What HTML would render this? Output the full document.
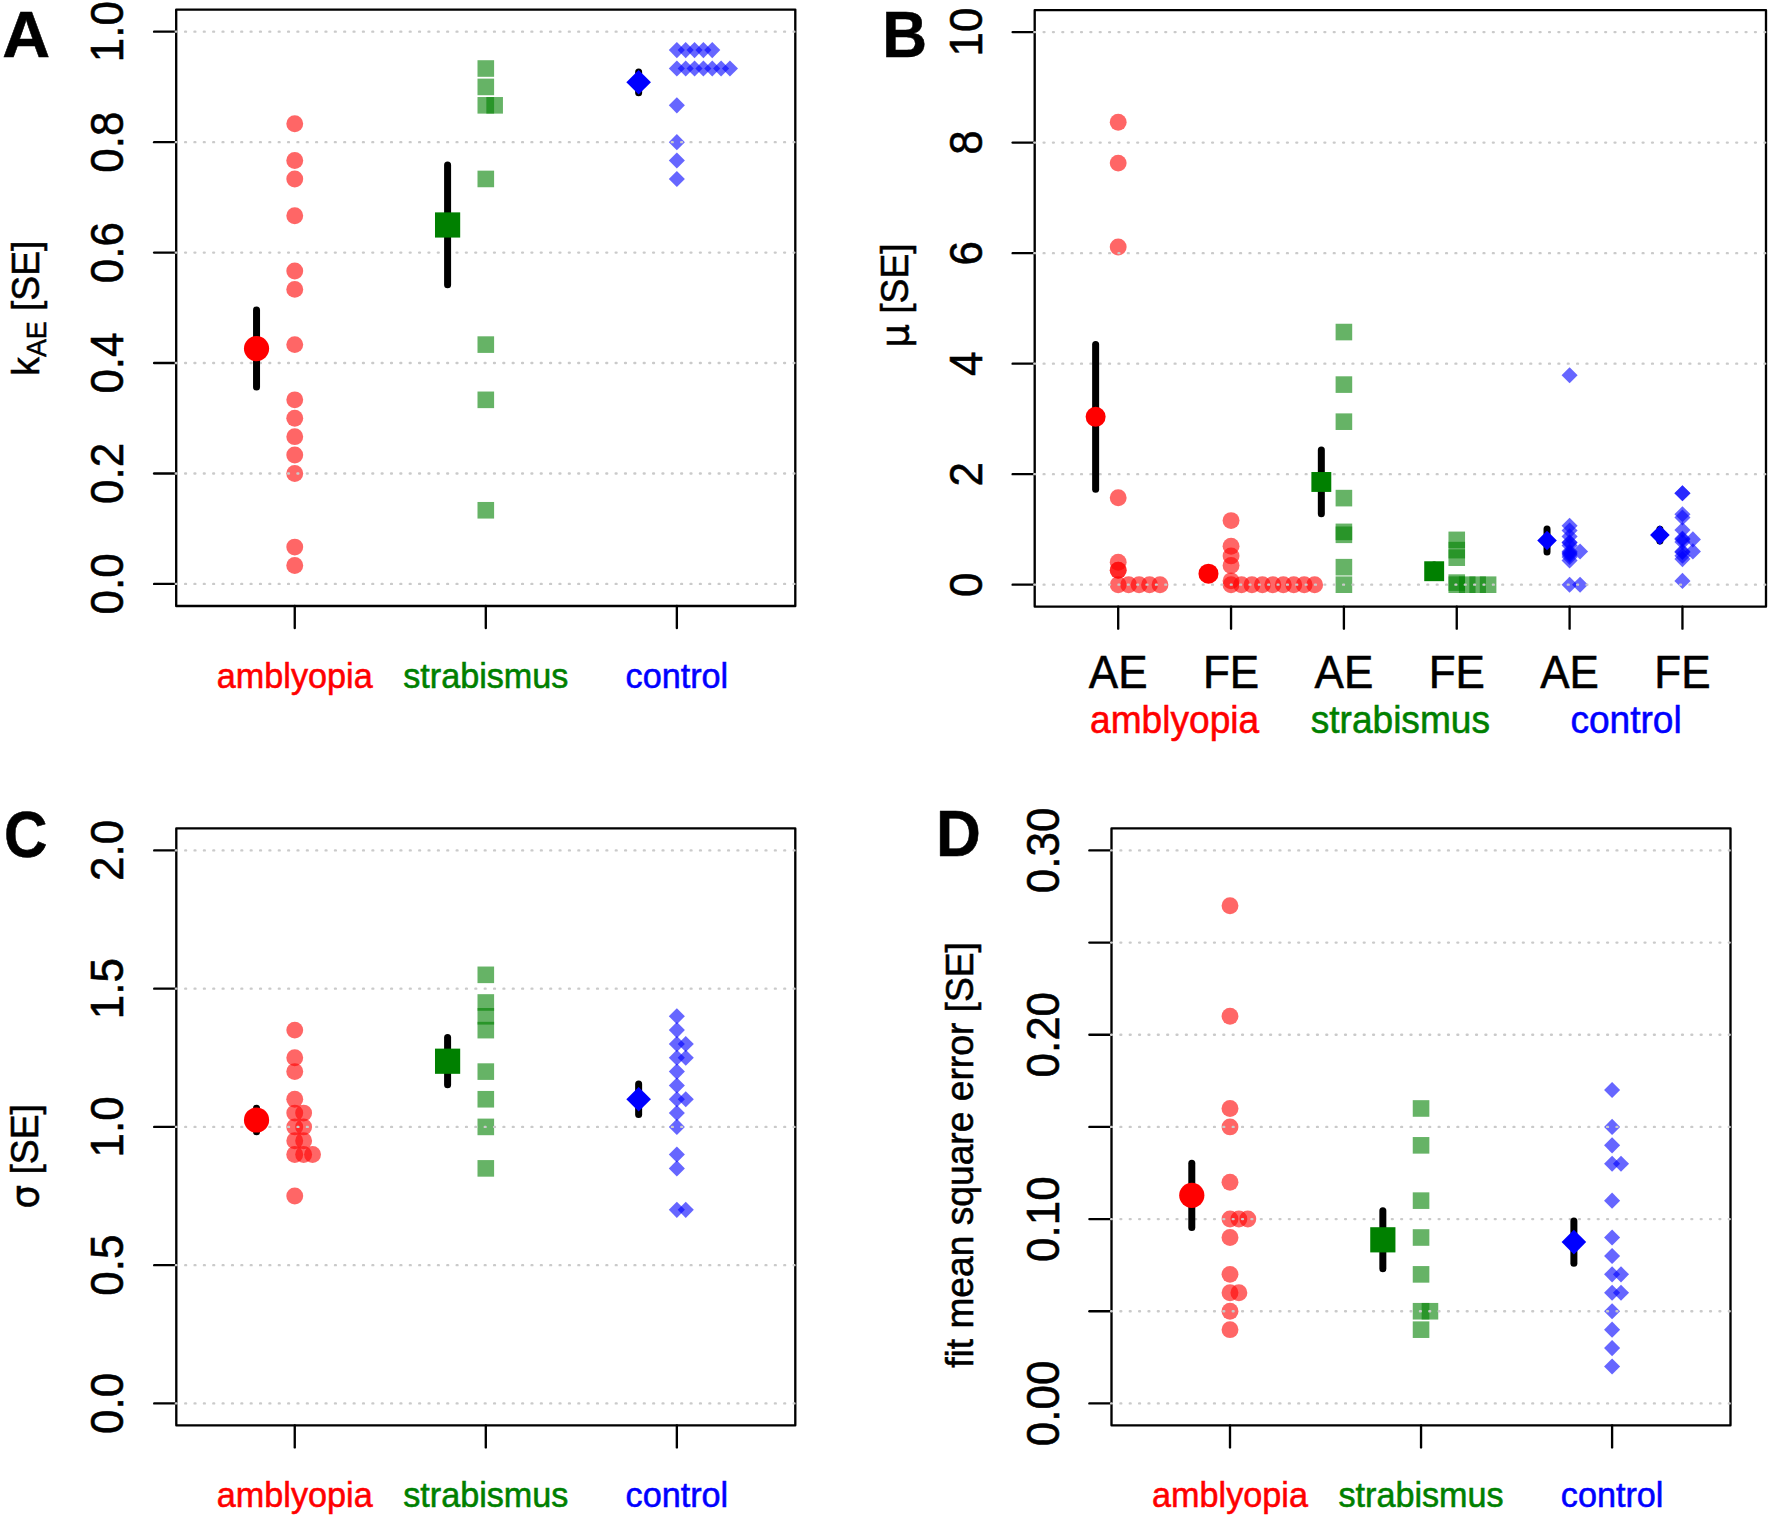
<!DOCTYPE html>
<html><head><meta charset="utf-8"><title>Figure</title>
<style>
html,body{margin:0;padding:0;background:#fff;}
svg{display:block;}
text{font-family:'Liberation Sans', Arial, Helvetica, sans-serif;stroke-width:0.55px;}
</style></head>
<body>
<svg width="1770" height="1518" viewBox="0 0 1770 1518">
<rect width="1770" height="1518" fill="#fff"/>
<circle cx="294.75" cy="123.73" r="8.45" fill="#FF0000" fill-opacity="0.6"/>
<circle cx="294.75" cy="160.55" r="8.45" fill="#FF0000" fill-opacity="0.6"/>
<circle cx="294.75" cy="178.95" r="8.45" fill="#FF0000" fill-opacity="0.6"/>
<circle cx="294.75" cy="215.77" r="8.45" fill="#FF0000" fill-opacity="0.6"/>
<circle cx="294.75" cy="270.99" r="8.45" fill="#FF0000" fill-opacity="0.6"/>
<circle cx="294.75" cy="289.39" r="8.45" fill="#FF0000" fill-opacity="0.6"/>
<circle cx="294.75" cy="344.61" r="8.45" fill="#FF0000" fill-opacity="0.6"/>
<circle cx="294.75" cy="399.83" r="8.45" fill="#FF0000" fill-opacity="0.6"/>
<circle cx="294.75" cy="418.24" r="8.45" fill="#FF0000" fill-opacity="0.6"/>
<circle cx="294.75" cy="436.65" r="8.45" fill="#FF0000" fill-opacity="0.6"/>
<circle cx="294.75" cy="455.05" r="8.45" fill="#FF0000" fill-opacity="0.6"/>
<circle cx="294.75" cy="473.46" r="8.45" fill="#FF0000" fill-opacity="0.6"/>
<circle cx="294.75" cy="547.09" r="8.45" fill="#FF0000" fill-opacity="0.6"/>
<circle cx="294.75" cy="565.49" r="8.45" fill="#FF0000" fill-opacity="0.6"/>
<rect x="477.5" y="60.21" width="16.6" height="16.6" fill="#008000" fill-opacity="0.6"/>
<rect x="477.5" y="78.62" width="16.6" height="16.6" fill="#008000" fill-opacity="0.6"/>
<rect x="477.5" y="97.03" width="16.6" height="16.6" fill="#008000" fill-opacity="0.6"/>
<rect x="486.35" y="97.03" width="16.6" height="16.6" fill="#008000" fill-opacity="0.6"/>
<rect x="477.5" y="170.65" width="16.6" height="16.6" fill="#008000" fill-opacity="0.6"/>
<rect x="477.5" y="336.31" width="16.6" height="16.6" fill="#008000" fill-opacity="0.6"/>
<rect x="477.5" y="391.53" width="16.6" height="16.6" fill="#008000" fill-opacity="0.6"/>
<rect x="477.5" y="501.97" width="16.6" height="16.6" fill="#008000" fill-opacity="0.6"/>
<path d="M676.85 42.06L684.9 50.11L676.85 58.16L668.8 50.11Z" fill="#0000FF" fill-opacity="0.6"/>
<path d="M685.7 42.06L693.75 50.11L685.7 58.16L677.65 50.11Z" fill="#0000FF" fill-opacity="0.6"/>
<path d="M694.55 42.06L702.6 50.11L694.55 58.16L686.5 50.11Z" fill="#0000FF" fill-opacity="0.6"/>
<path d="M703.4 42.06L711.45 50.11L703.4 58.16L695.35 50.11Z" fill="#0000FF" fill-opacity="0.6"/>
<path d="M712.25 42.06L720.3 50.11L712.25 58.16L704.2 50.11Z" fill="#0000FF" fill-opacity="0.6"/>
<path d="M676.85 60.46L684.9 68.51L676.85 76.56L668.8 68.51Z" fill="#0000FF" fill-opacity="0.6"/>
<path d="M685.7 60.46L693.75 68.51L685.7 76.56L677.65 68.51Z" fill="#0000FF" fill-opacity="0.6"/>
<path d="M694.55 60.46L702.6 68.51L694.55 76.56L686.5 68.51Z" fill="#0000FF" fill-opacity="0.6"/>
<path d="M703.4 60.46L711.45 68.51L703.4 76.56L695.35 68.51Z" fill="#0000FF" fill-opacity="0.6"/>
<path d="M712.25 60.46L720.3 68.51L712.25 76.56L704.2 68.51Z" fill="#0000FF" fill-opacity="0.6"/>
<path d="M721.1 60.46L729.15 68.51L721.1 76.56L713.05 68.51Z" fill="#0000FF" fill-opacity="0.6"/>
<path d="M729.95 60.46L738 68.51L729.95 76.56L721.9 68.51Z" fill="#0000FF" fill-opacity="0.6"/>
<path d="M676.85 97.28L684.9 105.33L676.85 113.38L668.8 105.33Z" fill="#0000FF" fill-opacity="0.6"/>
<path d="M676.85 134.09L684.9 142.14L676.85 150.19L668.8 142.14Z" fill="#0000FF" fill-opacity="0.6"/>
<path d="M676.85 152.5L684.9 160.55L676.85 168.6L668.8 160.55Z" fill="#0000FF" fill-opacity="0.6"/>
<path d="M676.85 170.9L684.9 178.95L676.85 187L668.8 178.95Z" fill="#0000FF" fill-opacity="0.6"/>
<g stroke="#000" stroke-width="2.34" stroke-linecap="round" stroke-linejoin="round" fill="none">
<rect x="176.2" y="9.6" width="619.1" height="596.4"/>
<line x1="154.1" y1="583.9" x2="176.2" y2="583.9"/>
<line x1="154.1" y1="473.46" x2="176.2" y2="473.46"/>
<line x1="154.1" y1="363.02" x2="176.2" y2="363.02"/>
<line x1="154.1" y1="252.58" x2="176.2" y2="252.58"/>
<line x1="154.1" y1="142.14" x2="176.2" y2="142.14"/>
<line x1="154.1" y1="31.7" x2="176.2" y2="31.7"/>
<line x1="294.75" y1="606" x2="294.75" y2="628.1"/>
<line x1="485.8" y1="606" x2="485.8" y2="628.1"/>
<line x1="676.85" y1="606" x2="676.85" y2="628.1"/>
</g>
<g stroke="#cacaca" stroke-width="2.34" stroke-dasharray="0.9 8.46" stroke-linecap="round" fill="none">
<line x1="175.75" y1="583.9" x2="795.3" y2="583.9"/>
<line x1="175.75" y1="473.46" x2="795.3" y2="473.46"/>
<line x1="175.75" y1="363.02" x2="795.3" y2="363.02"/>
<line x1="175.75" y1="252.58" x2="795.3" y2="252.58"/>
<line x1="175.75" y1="142.14" x2="795.3" y2="142.14"/>
<line x1="175.75" y1="31.7" x2="795.3" y2="31.7"/>
</g>
<line x1="256.54" y1="310.01" x2="256.54" y2="387.11" stroke="#000" stroke-width="7" stroke-linecap="round"/>
<circle cx="256.54" cy="348.56" r="12.6" fill="#FF0000"/>
<line x1="447.59" y1="165.12" x2="447.59" y2="284.82" stroke="#000" stroke-width="7" stroke-linecap="round"/>
<rect x="434.99" y="212.37" width="25.2" height="25.2" fill="#008000"/>
<line x1="638.64" y1="71.89" x2="638.64" y2="92.74" stroke="#000" stroke-width="7" stroke-linecap="round"/>
<path d="M638.64 70.02L650.94 82.32L638.64 94.62L626.34 82.32Z" fill="#0000FF"/>
<circle cx="1118.2" cy="122.28" r="8.45" fill="#FF0000" fill-opacity="0.6"/>
<circle cx="1118.2" cy="163.12" r="8.45" fill="#FF0000" fill-opacity="0.6"/>
<circle cx="1118.2" cy="247.01" r="8.45" fill="#FF0000" fill-opacity="0.6"/>
<circle cx="1118.2" cy="497.78" r="8.45" fill="#FF0000" fill-opacity="0.6"/>
<circle cx="1118.2" cy="562.21" r="8.45" fill="#FF0000" fill-opacity="0.6"/>
<circle cx="1118.2" cy="570.3" r="8.45" fill="#FF0000" fill-opacity="0.6"/>
<circle cx="1118.2" cy="570.3" r="8.45" fill="#FF0000" fill-opacity="0.6"/>
<circle cx="1118.2" cy="584.7" r="8.45" fill="#FF0000" fill-opacity="0.6"/>
<circle cx="1128.65" cy="584.7" r="8.45" fill="#FF0000" fill-opacity="0.6"/>
<circle cx="1139.1" cy="584.7" r="8.45" fill="#FF0000" fill-opacity="0.6"/>
<circle cx="1149.55" cy="584.7" r="8.45" fill="#FF0000" fill-opacity="0.6"/>
<circle cx="1160" cy="584.7" r="8.45" fill="#FF0000" fill-opacity="0.6"/>
<circle cx="1231.05" cy="520.6" r="8.45" fill="#FF0000" fill-opacity="0.6"/>
<circle cx="1231.05" cy="546.29" r="8.45" fill="#FF0000" fill-opacity="0.6"/>
<circle cx="1231.05" cy="555.91" r="8.45" fill="#FF0000" fill-opacity="0.6"/>
<circle cx="1231.05" cy="565.52" r="8.45" fill="#FF0000" fill-opacity="0.6"/>
<circle cx="1231.05" cy="580.83" r="8.45" fill="#FF0000" fill-opacity="0.6"/>
<circle cx="1231.05" cy="584.7" r="8.45" fill="#FF0000" fill-opacity="0.6"/>
<circle cx="1241.5" cy="584.7" r="8.45" fill="#FF0000" fill-opacity="0.6"/>
<circle cx="1251.95" cy="584.7" r="8.45" fill="#FF0000" fill-opacity="0.6"/>
<circle cx="1262.4" cy="584.7" r="8.45" fill="#FF0000" fill-opacity="0.6"/>
<circle cx="1272.85" cy="584.7" r="8.45" fill="#FF0000" fill-opacity="0.6"/>
<circle cx="1283.3" cy="584.7" r="8.45" fill="#FF0000" fill-opacity="0.6"/>
<circle cx="1293.75" cy="584.7" r="8.45" fill="#FF0000" fill-opacity="0.6"/>
<circle cx="1304.2" cy="584.7" r="8.45" fill="#FF0000" fill-opacity="0.6"/>
<circle cx="1314.65" cy="584.7" r="8.45" fill="#FF0000" fill-opacity="0.6"/>
<rect x="1335.6" y="323.75" width="16.6" height="16.6" fill="#008000" fill-opacity="0.6"/>
<rect x="1335.6" y="376.3" width="16.6" height="16.6" fill="#008000" fill-opacity="0.6"/>
<rect x="1335.6" y="413.38" width="16.6" height="16.6" fill="#008000" fill-opacity="0.6"/>
<rect x="1335.6" y="489.81" width="16.6" height="16.6" fill="#008000" fill-opacity="0.6"/>
<rect x="1335.6" y="523.57" width="16.6" height="16.6" fill="#008000" fill-opacity="0.6"/>
<rect x="1335.6" y="526.5" width="16.6" height="16.6" fill="#008000" fill-opacity="0.6"/>
<rect x="1335.6" y="558.88" width="16.6" height="16.6" fill="#008000" fill-opacity="0.6"/>
<rect x="1335.6" y="576.4" width="16.6" height="16.6" fill="#008000" fill-opacity="0.6"/>
<rect x="1448.45" y="531.58" width="16.6" height="16.6" fill="#008000" fill-opacity="0.6"/>
<rect x="1448.45" y="541.81" width="16.6" height="16.6" fill="#008000" fill-opacity="0.6"/>
<rect x="1448.45" y="549.38" width="16.6" height="16.6" fill="#008000" fill-opacity="0.6"/>
<rect x="1448.45" y="574.3" width="16.6" height="16.6" fill="#008000" fill-opacity="0.6"/>
<rect x="1448.45" y="576.4" width="16.6" height="16.6" fill="#008000" fill-opacity="0.6"/>
<rect x="1458.9" y="576.4" width="16.6" height="16.6" fill="#008000" fill-opacity="0.6"/>
<rect x="1469.35" y="576.4" width="16.6" height="16.6" fill="#008000" fill-opacity="0.6"/>
<rect x="1479.8" y="576.4" width="16.6" height="16.6" fill="#008000" fill-opacity="0.6"/>
<path d="M1569.6 367.16L1577.65 375.21L1569.6 383.26L1561.55 375.21Z" fill="#0000FF" fill-opacity="0.6"/>
<path d="M1569.6 517.63L1577.65 525.68L1569.6 533.73L1561.55 525.68Z" fill="#0000FF" fill-opacity="0.6"/>
<path d="M1569.6 522.38L1577.65 530.43L1569.6 538.48L1561.55 530.43Z" fill="#0000FF" fill-opacity="0.6"/>
<path d="M1569.6 528.35L1577.65 536.4L1569.6 544.45L1561.55 536.4Z" fill="#0000FF" fill-opacity="0.6"/>
<path d="M1569.6 534.27L1577.65 542.32L1569.6 550.37L1561.55 542.32Z" fill="#0000FF" fill-opacity="0.6"/>
<path d="M1569.6 534.82L1577.65 542.87L1569.6 550.92L1561.55 542.87Z" fill="#0000FF" fill-opacity="0.6"/>
<path d="M1569.6 537.53L1577.65 545.58L1569.6 553.63L1561.55 545.58Z" fill="#0000FF" fill-opacity="0.6"/>
<path d="M1569.6 543.49L1577.65 551.54L1569.6 559.59L1561.55 551.54Z" fill="#0000FF" fill-opacity="0.6"/>
<path d="M1569.6 544.6L1577.65 552.65L1569.6 560.7L1561.55 552.65Z" fill="#0000FF" fill-opacity="0.6"/>
<path d="M1569.6 545.7L1577.65 553.75L1569.6 561.8L1561.55 553.75Z" fill="#0000FF" fill-opacity="0.6"/>
<path d="M1569.6 546.98L1577.65 555.03L1569.6 563.08L1561.55 555.03Z" fill="#0000FF" fill-opacity="0.6"/>
<path d="M1569.6 549.02L1577.65 557.07L1569.6 565.12L1561.55 557.07Z" fill="#0000FF" fill-opacity="0.6"/>
<path d="M1569.6 552.34L1577.65 560.39L1569.6 568.44L1561.55 560.39Z" fill="#0000FF" fill-opacity="0.6"/>
<path d="M1580.05 543.44L1588.1 551.49L1580.05 559.54L1572 551.49Z" fill="#0000FF" fill-opacity="0.6"/>
<path d="M1569.6 576.65L1577.65 584.7L1569.6 592.75L1561.55 584.7Z" fill="#0000FF" fill-opacity="0.6"/>
<path d="M1580.05 576.65L1588.1 584.7L1580.05 592.75L1572 584.7Z" fill="#0000FF" fill-opacity="0.6"/>
<path d="M1682.45 485.25L1690.5 493.3L1682.45 501.35L1674.4 493.3Z" fill="#0000FF" fill-opacity="0.6"/>
<path d="M1682.45 485.25L1690.5 493.3L1682.45 501.35L1674.4 493.3Z" fill="#0000FF" fill-opacity="0.6"/>
<path d="M1682.45 506.25L1690.5 514.3L1682.45 522.35L1674.4 514.3Z" fill="#0000FF" fill-opacity="0.6"/>
<path d="M1682.45 509.45L1690.5 517.5L1682.45 525.55L1674.4 517.5Z" fill="#0000FF" fill-opacity="0.6"/>
<path d="M1682.45 521.94L1690.5 529.99L1682.45 538.04L1674.4 529.99Z" fill="#0000FF" fill-opacity="0.6"/>
<path d="M1682.45 530.45L1690.5 538.5L1682.45 546.55L1674.4 538.5Z" fill="#0000FF" fill-opacity="0.6"/>
<path d="M1682.45 531.34L1690.5 539.39L1682.45 547.44L1674.4 539.39Z" fill="#0000FF" fill-opacity="0.6"/>
<path d="M1682.45 533.93L1690.5 541.98L1682.45 550.03L1674.4 541.98Z" fill="#0000FF" fill-opacity="0.6"/>
<path d="M1682.45 543.33L1690.5 551.38L1682.45 559.43L1674.4 551.38Z" fill="#0000FF" fill-opacity="0.6"/>
<path d="M1682.45 544.16L1690.5 552.21L1682.45 560.26L1674.4 552.21Z" fill="#0000FF" fill-opacity="0.6"/>
<path d="M1682.45 547.64L1690.5 555.69L1682.45 563.74L1674.4 555.69Z" fill="#0000FF" fill-opacity="0.6"/>
<path d="M1682.45 551.06L1690.5 559.11L1682.45 567.16L1674.4 559.11Z" fill="#0000FF" fill-opacity="0.6"/>
<path d="M1682.45 572.84L1690.5 580.89L1682.45 588.94L1674.4 580.89Z" fill="#0000FF" fill-opacity="0.6"/>
<path d="M1692.9 531.34L1700.95 539.39L1692.9 547.44L1684.85 539.39Z" fill="#0000FF" fill-opacity="0.6"/>
<path d="M1692.9 543.33L1700.95 551.38L1692.9 559.43L1684.85 551.38Z" fill="#0000FF" fill-opacity="0.6"/>
<g stroke="#000" stroke-width="2.34" stroke-linecap="round" stroke-linejoin="round" fill="none">
<rect x="1034.7" y="10.2" width="731.3" height="596.4"/>
<line x1="1012.6" y1="584.7" x2="1034.7" y2="584.7"/>
<line x1="1012.6" y1="474.18" x2="1034.7" y2="474.18"/>
<line x1="1012.6" y1="363.66" x2="1034.7" y2="363.66"/>
<line x1="1012.6" y1="253.14" x2="1034.7" y2="253.14"/>
<line x1="1012.6" y1="142.62" x2="1034.7" y2="142.62"/>
<line x1="1012.6" y1="32.1" x2="1034.7" y2="32.1"/>
<line x1="1118.2" y1="606.6" x2="1118.2" y2="628.7"/>
<line x1="1231.05" y1="606.6" x2="1231.05" y2="628.7"/>
<line x1="1343.9" y1="606.6" x2="1343.9" y2="628.7"/>
<line x1="1456.75" y1="606.6" x2="1456.75" y2="628.7"/>
<line x1="1569.6" y1="606.6" x2="1569.6" y2="628.7"/>
<line x1="1682.45" y1="606.6" x2="1682.45" y2="628.7"/>
</g>
<g stroke="#cacaca" stroke-width="2.34" stroke-dasharray="0.9 8.46" stroke-linecap="round" fill="none">
<line x1="1034.25" y1="584.7" x2="1766" y2="584.7"/>
<line x1="1034.25" y1="474.18" x2="1766" y2="474.18"/>
<line x1="1034.25" y1="363.66" x2="1766" y2="363.66"/>
<line x1="1034.25" y1="253.14" x2="1766" y2="253.14"/>
<line x1="1034.25" y1="142.62" x2="1766" y2="142.62"/>
<line x1="1034.25" y1="32.1" x2="1766" y2="32.1"/>
</g>
<line x1="1095.63" y1="344.48" x2="1095.63" y2="489.32" stroke="#000" stroke-width="7" stroke-linecap="round"/>
<circle cx="1095.63" cy="416.82" r="10" fill="#FF0000"/>
<line x1="1208.48" y1="569.78" x2="1208.48" y2="577.52" stroke="#000" stroke-width="7" stroke-linecap="round"/>
<circle cx="1208.48" cy="573.65" r="10" fill="#FF0000"/>
<line x1="1321.33" y1="450.09" x2="1321.33" y2="513.8" stroke="#000" stroke-width="7" stroke-linecap="round"/>
<rect x="1311.38" y="472.02" width="19.9" height="19.9" fill="#008000"/>
<line x1="1434.18" y1="564.97" x2="1434.18" y2="577.46" stroke="#000" stroke-width="7" stroke-linecap="round"/>
<rect x="1424.23" y="561.27" width="19.9" height="19.9" fill="#008000"/>
<line x1="1547.03" y1="529" x2="1547.03" y2="552.1" stroke="#000" stroke-width="7" stroke-linecap="round"/>
<path d="M1547.03 530.69L1556.83 540.49L1547.03 550.29L1537.23 540.49Z" fill="#0000FF"/>
<line x1="1659.88" y1="529.22" x2="1659.88" y2="541.04" stroke="#000" stroke-width="7" stroke-linecap="round"/>
<path d="M1659.88 525.28L1669.68 535.08L1659.88 544.88L1650.08 535.08Z" fill="#0000FF"/>
<circle cx="294.75" cy="1030.12" r="8.45" fill="#FF0000" fill-opacity="0.6"/>
<circle cx="294.75" cy="1057.78" r="8.45" fill="#FF0000" fill-opacity="0.6"/>
<circle cx="294.75" cy="1071.6" r="8.45" fill="#FF0000" fill-opacity="0.6"/>
<circle cx="294.75" cy="1099.25" r="8.45" fill="#FF0000" fill-opacity="0.6"/>
<circle cx="294.75" cy="1113.08" r="8.45" fill="#FF0000" fill-opacity="0.6"/>
<circle cx="303.65" cy="1113.08" r="8.45" fill="#FF0000" fill-opacity="0.6"/>
<circle cx="294.75" cy="1126.9" r="8.45" fill="#FF0000" fill-opacity="0.6"/>
<circle cx="303.65" cy="1126.9" r="8.45" fill="#FF0000" fill-opacity="0.6"/>
<circle cx="294.75" cy="1140.73" r="8.45" fill="#FF0000" fill-opacity="0.6"/>
<circle cx="303.65" cy="1140.73" r="8.45" fill="#FF0000" fill-opacity="0.6"/>
<circle cx="294.75" cy="1154.55" r="8.45" fill="#FF0000" fill-opacity="0.6"/>
<circle cx="303.65" cy="1154.55" r="8.45" fill="#FF0000" fill-opacity="0.6"/>
<circle cx="312.55" cy="1154.55" r="8.45" fill="#FF0000" fill-opacity="0.6"/>
<circle cx="294.75" cy="1196.03" r="8.45" fill="#FF0000" fill-opacity="0.6"/>
<rect x="477.5" y="966.53" width="16.6" height="16.6" fill="#008000" fill-opacity="0.6"/>
<rect x="477.5" y="994.18" width="16.6" height="16.6" fill="#008000" fill-opacity="0.6"/>
<rect x="477.5" y="1008" width="16.6" height="16.6" fill="#008000" fill-opacity="0.6"/>
<rect x="477.5" y="1021.83" width="16.6" height="16.6" fill="#008000" fill-opacity="0.6"/>
<rect x="477.5" y="1063.3" width="16.6" height="16.6" fill="#008000" fill-opacity="0.6"/>
<rect x="477.5" y="1090.95" width="16.6" height="16.6" fill="#008000" fill-opacity="0.6"/>
<rect x="477.5" y="1118.6" width="16.6" height="16.6" fill="#008000" fill-opacity="0.6"/>
<rect x="477.5" y="1160.08" width="16.6" height="16.6" fill="#008000" fill-opacity="0.6"/>
<path d="M676.85 1008.25L684.9 1016.3L676.85 1024.35L668.8 1016.3Z" fill="#0000FF" fill-opacity="0.6"/>
<path d="M676.85 1022.08L684.9 1030.12L676.85 1038.17L668.8 1030.12Z" fill="#0000FF" fill-opacity="0.6"/>
<path d="M676.85 1035.9L684.9 1043.95L676.85 1052L668.8 1043.95Z" fill="#0000FF" fill-opacity="0.6"/>
<path d="M685.75 1035.9L693.8 1043.95L685.75 1052L677.7 1043.95Z" fill="#0000FF" fill-opacity="0.6"/>
<path d="M676.85 1049.73L684.9 1057.78L676.85 1065.83L668.8 1057.78Z" fill="#0000FF" fill-opacity="0.6"/>
<path d="M685.75 1049.73L693.8 1057.78L685.75 1065.83L677.7 1057.78Z" fill="#0000FF" fill-opacity="0.6"/>
<path d="M676.85 1063.55L684.9 1071.6L676.85 1079.65L668.8 1071.6Z" fill="#0000FF" fill-opacity="0.6"/>
<path d="M676.85 1077.38L684.9 1085.43L676.85 1093.48L668.8 1085.43Z" fill="#0000FF" fill-opacity="0.6"/>
<path d="M676.85 1091.2L684.9 1099.25L676.85 1107.3L668.8 1099.25Z" fill="#0000FF" fill-opacity="0.6"/>
<path d="M685.75 1091.2L693.8 1099.25L685.75 1107.3L677.7 1099.25Z" fill="#0000FF" fill-opacity="0.6"/>
<path d="M676.85 1105.03L684.9 1113.08L676.85 1121.12L668.8 1113.08Z" fill="#0000FF" fill-opacity="0.6"/>
<path d="M676.85 1118.85L684.9 1126.9L676.85 1134.95L668.8 1126.9Z" fill="#0000FF" fill-opacity="0.6"/>
<path d="M676.85 1146.5L684.9 1154.55L676.85 1162.6L668.8 1154.55Z" fill="#0000FF" fill-opacity="0.6"/>
<path d="M676.85 1160.33L684.9 1168.38L676.85 1176.42L668.8 1168.38Z" fill="#0000FF" fill-opacity="0.6"/>
<path d="M676.85 1201.8L684.9 1209.85L676.85 1217.9L668.8 1209.85Z" fill="#0000FF" fill-opacity="0.6"/>
<path d="M685.75 1201.8L693.8 1209.85L685.75 1217.9L677.7 1209.85Z" fill="#0000FF" fill-opacity="0.6"/>
<g stroke="#000" stroke-width="2.34" stroke-linecap="round" stroke-linejoin="round" fill="none">
<rect x="176.3" y="828.4" width="619" height="596.9"/>
<line x1="154.2" y1="1403.4" x2="176.3" y2="1403.4"/>
<line x1="154.2" y1="1265.15" x2="176.3" y2="1265.15"/>
<line x1="154.2" y1="1126.9" x2="176.3" y2="1126.9"/>
<line x1="154.2" y1="988.65" x2="176.3" y2="988.65"/>
<line x1="154.2" y1="850.4" x2="176.3" y2="850.4"/>
<line x1="294.75" y1="1425.3" x2="294.75" y2="1447.4"/>
<line x1="485.8" y1="1425.3" x2="485.8" y2="1447.4"/>
<line x1="676.85" y1="1425.3" x2="676.85" y2="1447.4"/>
</g>
<g stroke="#cacaca" stroke-width="2.34" stroke-dasharray="0.9 8.46" stroke-linecap="round" fill="none">
<line x1="175.85" y1="1403.4" x2="795.3" y2="1403.4"/>
<line x1="175.85" y1="1265.15" x2="795.3" y2="1265.15"/>
<line x1="175.85" y1="1126.9" x2="795.3" y2="1126.9"/>
<line x1="175.85" y1="988.65" x2="795.3" y2="988.65"/>
<line x1="175.85" y1="850.4" x2="795.3" y2="850.4"/>
</g>
<line x1="256.54" y1="1108.24" x2="256.54" y2="1131.74" stroke="#000" stroke-width="7" stroke-linecap="round"/>
<circle cx="256.54" cy="1119.99" r="12.6" fill="#FF0000"/>
<line x1="447.59" y1="1037.61" x2="447.59" y2="1084.85" stroke="#000" stroke-width="7" stroke-linecap="round"/>
<rect x="434.99" y="1048.63" width="25.2" height="25.2" fill="#008000"/>
<line x1="638.64" y1="1084.05" x2="638.64" y2="1114.45" stroke="#000" stroke-width="7" stroke-linecap="round"/>
<path d="M638.64 1086.95L650.94 1099.25L638.64 1111.55L626.34 1099.25Z" fill="#0000FF"/>
<circle cx="1230" cy="905.71" r="8.45" fill="#FF0000" fill-opacity="0.6"/>
<circle cx="1230" cy="1016.31" r="8.45" fill="#FF0000" fill-opacity="0.6"/>
<circle cx="1230" cy="1108.47" r="8.45" fill="#FF0000" fill-opacity="0.6"/>
<circle cx="1230" cy="1126.91" r="8.45" fill="#FF0000" fill-opacity="0.6"/>
<circle cx="1230" cy="1182.2" r="8.45" fill="#FF0000" fill-opacity="0.6"/>
<circle cx="1230" cy="1219.07" r="8.45" fill="#FF0000" fill-opacity="0.6"/>
<circle cx="1238.9" cy="1219.07" r="8.45" fill="#FF0000" fill-opacity="0.6"/>
<circle cx="1247.8" cy="1219.07" r="8.45" fill="#FF0000" fill-opacity="0.6"/>
<circle cx="1230" cy="1237.5" r="8.45" fill="#FF0000" fill-opacity="0.6"/>
<circle cx="1230" cy="1274.37" r="8.45" fill="#FF0000" fill-opacity="0.6"/>
<circle cx="1230" cy="1292.8" r="8.45" fill="#FF0000" fill-opacity="0.6"/>
<circle cx="1238.9" cy="1292.8" r="8.45" fill="#FF0000" fill-opacity="0.6"/>
<circle cx="1230" cy="1311.24" r="8.45" fill="#FF0000" fill-opacity="0.6"/>
<circle cx="1230" cy="1329.67" r="8.45" fill="#FF0000" fill-opacity="0.6"/>
<rect x="1412.75" y="1100.17" width="16.6" height="16.6" fill="#008000" fill-opacity="0.6"/>
<rect x="1412.75" y="1137.04" width="16.6" height="16.6" fill="#008000" fill-opacity="0.6"/>
<rect x="1412.75" y="1192.34" width="16.6" height="16.6" fill="#008000" fill-opacity="0.6"/>
<rect x="1412.75" y="1229.2" width="16.6" height="16.6" fill="#008000" fill-opacity="0.6"/>
<rect x="1412.75" y="1266.07" width="16.6" height="16.6" fill="#008000" fill-opacity="0.6"/>
<rect x="1412.75" y="1302.94" width="16.6" height="16.6" fill="#008000" fill-opacity="0.6"/>
<rect x="1421.65" y="1302.94" width="16.6" height="16.6" fill="#008000" fill-opacity="0.6"/>
<rect x="1412.75" y="1321.37" width="16.6" height="16.6" fill="#008000" fill-opacity="0.6"/>
<path d="M1612.1 1081.99L1620.15 1090.04L1612.1 1098.09L1604.05 1090.04Z" fill="#0000FF" fill-opacity="0.6"/>
<path d="M1612.1 1118.86L1620.15 1126.91L1612.1 1134.96L1604.05 1126.91Z" fill="#0000FF" fill-opacity="0.6"/>
<path d="M1612.1 1137.29L1620.15 1145.34L1612.1 1153.39L1604.05 1145.34Z" fill="#0000FF" fill-opacity="0.6"/>
<path d="M1612.1 1155.72L1620.15 1163.77L1612.1 1171.82L1604.05 1163.77Z" fill="#0000FF" fill-opacity="0.6"/>
<path d="M1621 1155.72L1629.05 1163.77L1621 1171.82L1612.95 1163.77Z" fill="#0000FF" fill-opacity="0.6"/>
<path d="M1612.1 1192.59L1620.15 1200.64L1612.1 1208.69L1604.05 1200.64Z" fill="#0000FF" fill-opacity="0.6"/>
<path d="M1612.1 1229.45L1620.15 1237.5L1612.1 1245.55L1604.05 1237.5Z" fill="#0000FF" fill-opacity="0.6"/>
<path d="M1612.1 1247.89L1620.15 1255.94L1612.1 1263.99L1604.05 1255.94Z" fill="#0000FF" fill-opacity="0.6"/>
<path d="M1612.1 1266.32L1620.15 1274.37L1612.1 1282.42L1604.05 1274.37Z" fill="#0000FF" fill-opacity="0.6"/>
<path d="M1621 1266.32L1629.05 1274.37L1621 1282.42L1612.95 1274.37Z" fill="#0000FF" fill-opacity="0.6"/>
<path d="M1612.1 1284.75L1620.15 1292.8L1612.1 1300.85L1604.05 1292.8Z" fill="#0000FF" fill-opacity="0.6"/>
<path d="M1621 1284.75L1629.05 1292.8L1621 1300.85L1612.95 1292.8Z" fill="#0000FF" fill-opacity="0.6"/>
<path d="M1612.1 1303.19L1620.15 1311.24L1612.1 1319.29L1604.05 1311.24Z" fill="#0000FF" fill-opacity="0.6"/>
<path d="M1612.1 1321.62L1620.15 1329.67L1612.1 1337.72L1604.05 1329.67Z" fill="#0000FF" fill-opacity="0.6"/>
<path d="M1612.1 1340.05L1620.15 1348.1L1612.1 1356.15L1604.05 1348.1Z" fill="#0000FF" fill-opacity="0.6"/>
<path d="M1612.1 1358.48L1620.15 1366.53L1612.1 1374.58L1604.05 1366.53Z" fill="#0000FF" fill-opacity="0.6"/>
<g stroke="#000" stroke-width="2.34" stroke-linecap="round" stroke-linejoin="round" fill="none">
<rect x="1111.5" y="828.4" width="619" height="596.9"/>
<line x1="1089.4" y1="1403.4" x2="1111.5" y2="1403.4"/>
<line x1="1089.4" y1="1311.24" x2="1111.5" y2="1311.24"/>
<line x1="1089.4" y1="1219.07" x2="1111.5" y2="1219.07"/>
<line x1="1089.4" y1="1126.91" x2="1111.5" y2="1126.91"/>
<line x1="1089.4" y1="1034.74" x2="1111.5" y2="1034.74"/>
<line x1="1089.4" y1="942.58" x2="1111.5" y2="942.58"/>
<line x1="1089.4" y1="850.41" x2="1111.5" y2="850.41"/>
<line x1="1230" y1="1425.3" x2="1230" y2="1447.4"/>
<line x1="1421.05" y1="1425.3" x2="1421.05" y2="1447.4"/>
<line x1="1612.1" y1="1425.3" x2="1612.1" y2="1447.4"/>
</g>
<g stroke="#cacaca" stroke-width="2.34" stroke-dasharray="0.9 8.46" stroke-linecap="round" fill="none">
<line x1="1111.05" y1="1403.4" x2="1730.5" y2="1403.4"/>
<line x1="1111.05" y1="1311.24" x2="1730.5" y2="1311.24"/>
<line x1="1111.05" y1="1219.07" x2="1730.5" y2="1219.07"/>
<line x1="1111.05" y1="1126.91" x2="1730.5" y2="1126.91"/>
<line x1="1111.05" y1="1034.74" x2="1730.5" y2="1034.74"/>
<line x1="1111.05" y1="942.58" x2="1730.5" y2="942.58"/>
<line x1="1111.05" y1="850.41" x2="1730.5" y2="850.41"/>
</g>
<line x1="1191.79" y1="1163.19" x2="1191.79" y2="1227.56" stroke="#000" stroke-width="7" stroke-linecap="round"/>
<circle cx="1191.79" cy="1195.37" r="12.6" fill="#FF0000"/>
<line x1="1382.84" y1="1210.78" x2="1382.84" y2="1268.83" stroke="#000" stroke-width="7" stroke-linecap="round"/>
<rect x="1370.24" y="1227.21" width="25.2" height="25.2" fill="#008000"/>
<line x1="1573.89" y1="1221.06" x2="1573.89" y2="1263.16" stroke="#000" stroke-width="7" stroke-linecap="round"/>
<path d="M1573.89 1229.81L1586.19 1242.11L1573.89 1254.41L1561.59 1242.11Z" fill="#0000FF"/>
<text transform="translate(123.1 583.9) rotate(-90) scale(1.0 1.04)" font-size="44" text-anchor="middle" fill="#000" stroke="#000">0.0</text>
<text transform="translate(123.1 473.46) rotate(-90) scale(1.0 1.04)" font-size="44" text-anchor="middle" fill="#000" stroke="#000">0.2</text>
<text transform="translate(123.1 363.02) rotate(-90) scale(1.0 1.04)" font-size="44" text-anchor="middle" fill="#000" stroke="#000">0.4</text>
<text transform="translate(123.1 252.58) rotate(-90) scale(1.0 1.04)" font-size="44" text-anchor="middle" fill="#000" stroke="#000">0.6</text>
<text transform="translate(123.1 142.14) rotate(-90) scale(1.0 1.04)" font-size="44" text-anchor="middle" fill="#000" stroke="#000">0.8</text>
<text transform="translate(123.1 31.7) rotate(-90) scale(1.0 1.04)" font-size="44" text-anchor="middle" fill="#000" stroke="#000">1.0</text>
<text transform="translate(981.7 584.7) rotate(-90) scale(1.0 1.04)" font-size="44" text-anchor="middle" fill="#000" stroke="#000">0</text>
<text transform="translate(981.7 474.18) rotate(-90) scale(1.0 1.04)" font-size="44" text-anchor="middle" fill="#000" stroke="#000">2</text>
<text transform="translate(981.7 363.66) rotate(-90) scale(1.0 1.04)" font-size="44" text-anchor="middle" fill="#000" stroke="#000">4</text>
<text transform="translate(981.7 253.14) rotate(-90) scale(1.0 1.04)" font-size="44" text-anchor="middle" fill="#000" stroke="#000">6</text>
<text transform="translate(981.7 142.62) rotate(-90) scale(1.0 1.04)" font-size="44" text-anchor="middle" fill="#000" stroke="#000">8</text>
<text transform="translate(981.7 32.1) rotate(-90) scale(1.0 1.04)" font-size="44" text-anchor="middle" fill="#000" stroke="#000">10</text>
<text transform="translate(123.3 1403.4) rotate(-90) scale(1.0 1.04)" font-size="44" text-anchor="middle" fill="#000" stroke="#000">0.0</text>
<text transform="translate(123.3 1265.15) rotate(-90) scale(1.0 1.04)" font-size="44" text-anchor="middle" fill="#000" stroke="#000">0.5</text>
<text transform="translate(123.3 1126.9) rotate(-90) scale(1.0 1.04)" font-size="44" text-anchor="middle" fill="#000" stroke="#000">1.0</text>
<text transform="translate(123.3 988.65) rotate(-90) scale(1.0 1.04)" font-size="44" text-anchor="middle" fill="#000" stroke="#000">1.5</text>
<text transform="translate(123.3 850.4) rotate(-90) scale(1.0 1.04)" font-size="44" text-anchor="middle" fill="#000" stroke="#000">2.0</text>
<text transform="translate(1058.6 1403.4) rotate(-90) scale(1.0 1.04)" font-size="44" text-anchor="middle" fill="#000" stroke="#000">0.00</text>
<text transform="translate(1058.6 1219.07) rotate(-90) scale(1.0 1.04)" font-size="44" text-anchor="middle" fill="#000" stroke="#000">0.10</text>
<text transform="translate(1058.6 1034.74) rotate(-90) scale(1.0 1.04)" font-size="44" text-anchor="middle" fill="#000" stroke="#000">0.20</text>
<text transform="translate(1058.6 850.41) rotate(-90) scale(1.0 1.04)" font-size="44" text-anchor="middle" fill="#000" stroke="#000">0.30</text>
<text transform="translate(294.75 687.5) scale(1.0 1.04)" font-size="34.2" text-anchor="middle" fill="#FF0000" stroke="#FF0000">amblyopia</text>
<text transform="translate(485.8 687.5) scale(1.0 1.04)" font-size="34.2" text-anchor="middle" fill="#008000" stroke="#008000">strabismus</text>
<text transform="translate(676.85 687.5) scale(1.0 1.04)" font-size="34.2" text-anchor="middle" fill="#0000FF" stroke="#0000FF">control</text>
<text transform="translate(294.75 1506.5) scale(1.0 1.04)" font-size="34.2" text-anchor="middle" fill="#FF0000" stroke="#FF0000">amblyopia</text>
<text transform="translate(485.8 1506.5) scale(1.0 1.04)" font-size="34.2" text-anchor="middle" fill="#008000" stroke="#008000">strabismus</text>
<text transform="translate(676.85 1506.5) scale(1.0 1.04)" font-size="34.2" text-anchor="middle" fill="#0000FF" stroke="#0000FF">control</text>
<text transform="translate(1230 1506.5) scale(1.0 1.04)" font-size="34.2" text-anchor="middle" fill="#FF0000" stroke="#FF0000">amblyopia</text>
<text transform="translate(1421.05 1506.5) scale(1.0 1.04)" font-size="34.2" text-anchor="middle" fill="#008000" stroke="#008000">strabismus</text>
<text transform="translate(1612.1 1506.5) scale(1.0 1.04)" font-size="34.2" text-anchor="middle" fill="#0000FF" stroke="#0000FF">control</text>
<text transform="translate(1118.2 687.8) scale(1.0 1.04)" font-size="44" text-anchor="middle" fill="#000" stroke="#000">AE</text>
<text transform="translate(1231.05 687.8) scale(1.0 1.04)" font-size="44" text-anchor="middle" fill="#000" stroke="#000">FE</text>
<text transform="translate(1343.9 687.8) scale(1.0 1.04)" font-size="44" text-anchor="middle" fill="#000" stroke="#000">AE</text>
<text transform="translate(1456.75 687.8) scale(1.0 1.04)" font-size="44" text-anchor="middle" fill="#000" stroke="#000">FE</text>
<text transform="translate(1569.6 687.8) scale(1.0 1.04)" font-size="44" text-anchor="middle" fill="#000" stroke="#000">AE</text>
<text transform="translate(1682.45 687.8) scale(1.0 1.04)" font-size="44" text-anchor="middle" fill="#000" stroke="#000">FE</text>
<text transform="translate(1174.62 732.5) scale(1.0 1.04)" font-size="37.1" text-anchor="middle" fill="#FF0000" stroke="#FF0000">amblyopia</text>
<text transform="translate(1400.33 732.5) scale(1.0 1.04)" font-size="37.1" text-anchor="middle" fill="#008000" stroke="#008000">strabismus</text>
<text transform="translate(1626.03 732.5) scale(1.0 1.04)" font-size="37.1" text-anchor="middle" fill="#0000FF" stroke="#0000FF">control</text>
<text transform="translate(39 308.2) rotate(-90) scale(1 1.04)" font-size="37.2" text-anchor="middle" stroke="#000">k<tspan font-size="26.78" dy="6.4">AE</tspan><tspan dy="-6.4"> [SE]</tspan></text>
<text transform="translate(908.3 295.6) rotate(-90) scale(1.0 1.04)" font-size="37.2" text-anchor="middle" fill="#000" stroke="#000"><tspan font-family="DejaVu Sans">μ</tspan> [SE]</text>
<text transform="translate(37.7 1156.3) rotate(-90) scale(1.0 1.04)" font-size="37.2" text-anchor="middle" fill="#000" stroke="#000"><tspan font-family="DejaVu Sans">σ</tspan> [SE]</text>
<text transform="translate(973 1155) rotate(-90) scale(1.0 1.04)" font-size="37.2" text-anchor="middle" fill="#000" stroke="#000">fit mean square error [SE]</text>
<text transform="translate(2.25 56.9) scale(1.02 1.0)" font-size="65" text-anchor="start" fill="#000" stroke="#000" font-weight="bold">A</text>
<text transform="translate(882.15 57) scale(0.955 1.0)" font-size="65" text-anchor="start" fill="#000" stroke="#000" font-weight="bold">B</text>
<text transform="translate(4.03 856.6) scale(0.925 1.0)" font-size="65" text-anchor="start" fill="#000" stroke="#000" font-weight="bold">C</text>
<text transform="translate(936.05 856.4) scale(0.955 1.0)" font-size="65" text-anchor="start" fill="#000" stroke="#000" font-weight="bold">D</text>
</svg>
</body></html>
